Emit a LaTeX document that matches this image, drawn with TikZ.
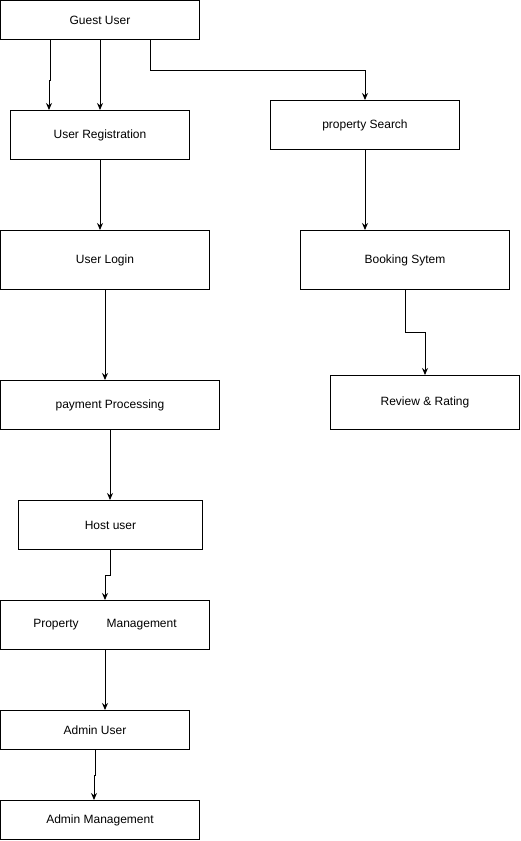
\documentclass[tikz,border=0pt]{standalone}
\usepackage{fontspec}
\setmainfont{Liberation Sans}
\usetikzlibrary{arrows.meta}
\tikzset{
	box/.style={draw, line width=1pt, inner sep=0pt, font=\fontsize{12}{14}\selectfont},
	arr/.style={line width=1pt, -{Stealth[length=7pt, width=6pt]}}
}
\begin{document}
\begin{tikzpicture}[x=1pt, y=-1pt]
	\useasboundingbox (0,0) rectangle (521,841);
	\node[box, minimum width=199, minimum height=39] (guest) at (100,20) {Guest User};
	\node[box, minimum width=179, minimum height=49] (reg) at (100,135) {User Registration};
	\node[box, minimum width=189, minimum height=49] (search) at (365,125) {property Search};
	\node[box, minimum width=209, minimum height=59] (login) at (105,260) {User Login};
	\node[box, minimum width=209, minimum height=59] (booking) at (405,260) {Booking Sytem};
	\node[box, minimum width=219, minimum height=49] (payment) at (110,405) {payment Processing};
	\node[box, minimum width=189, minimum height=54] (review) at (425,402.5) {Review \& Rating};
	\node[box, minimum width=184, minimum height=49] (host) at (110.5,525) {Host user};
	\node[box, minimum width=209, minimum height=49] (propmgmt) at (105,625) {Property\hspace{28pt}Management};
	\node[box, minimum width=189, minimum height=39] (admin) at (95,730) {Admin User};
	\node[box, minimum width=199, minimum height=39] (adminmgmt) at (100,820) {Admin Management};
	\coordinate (g1) at (50,80);
	\coordinate (g2) at (49,80);
	\coordinate (s1) at (150,70);
	\coordinate (b1) at (405,332);
	\coordinate (h1) at (110,575);
	\coordinate (a1) at (95,775);
	\draw[arr] (guest.south -| g1) -- (g1) -- (g2) -- (reg.north -| g2);
	\draw[arr] (guest.south) -- (reg.north);
	\draw[arr] (guest.south -| s1) |- (s1 -| search.north) -- (search.north);
	\draw[arr] (reg.south) -- (reg.south |- login.north);
	\draw[arr] (search.south) -- (booking.north -| search.south);
	\draw[arr] (login.south) -- (login.south |- payment.north);
	\draw[arr] (booking.south) -- (b1) -| (review.north);
	\draw[arr] (payment.south) -- (payment.south |- host.north);
	\draw[arr] (host.south -| h1) -- (h1) -| (propmgmt.north);
	\draw[arr] (propmgmt.south) -- (propmgmt.south |- admin.north);
	\draw[arr] (admin.south) -- (a1) -| ([xshift=-6pt]adminmgmt.north);
\end{tikzpicture}
\end{document}
